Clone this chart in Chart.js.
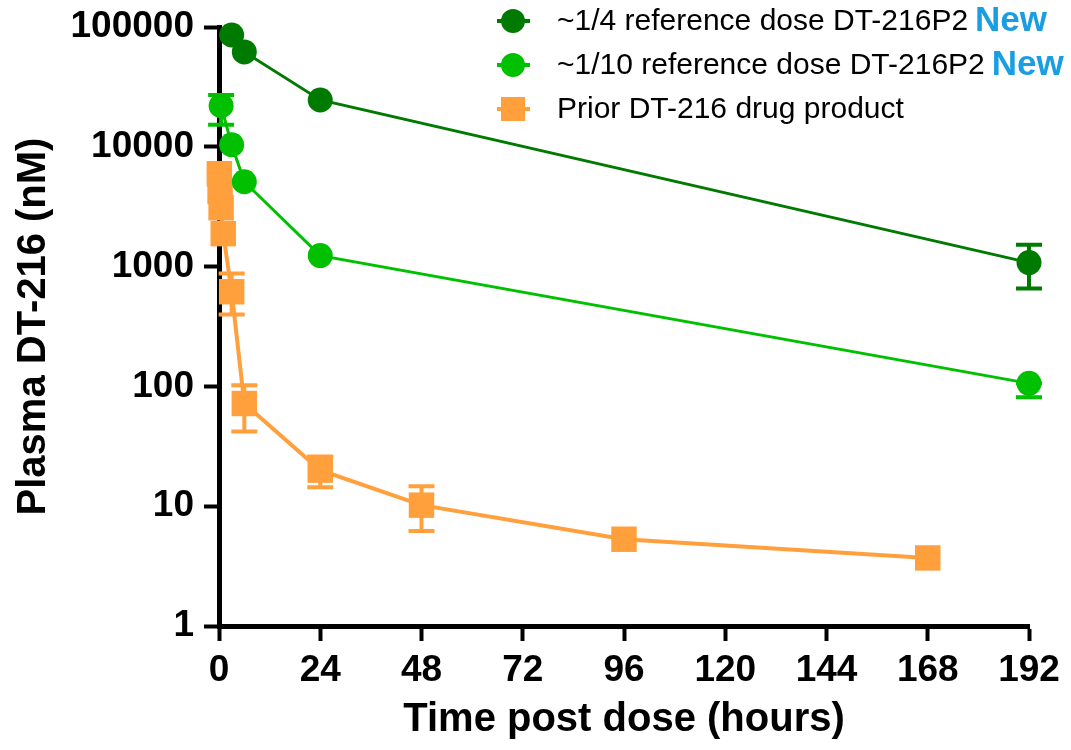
<!DOCTYPE html>
<html>
<head>
<meta charset="utf-8">
<script src="https://cdn.jsdelivr.net/npm/chart.js@4"></script>
<style>
  html, body { margin: 0; padding: 0; background: #fff; }
</style>
</head>
<body>
<canvas id="chart" width="1071" height="750"></canvas>
<script>
'use strict';

// ~1/4 reference dose
const hoursQuarter = [3, 6, 24, 192];
const plasmaQuarter = [85800, 61900, 24600, 1080];
const lowQuarter = [null, null, null, 657];
const highQuarter = [null, null, null, 1520];

// ~1/10 reference dose
const hoursTenth = [0.5, 3, 6, 24, 192];
const plasmaTenth = [22000, 10400, 5110, 1235, 106];
const lowTenth = [15250, null, null, null, 81];
const highTenth = [27100, null, null, null, 106];

// prior drug product
const hoursPrior = [0.083, 0.25, 0.5, 1, 3, 6, 24, 48, 96, 168];
const plasmaPrior = [5960, 4220, 3100, 1884, 617, 72, 20, 10.2, 5.3, 3.7];
const lowPrior = [null, null, null, null, 398, 42, 14.4, 6.2, null, null];
const highPrior = [null, null, null, null, 875, 102, 26, 14.7, null, null];

const seriesLabels = [
    '~1/4 reference dose DT-216P2',
    '~1/10 reference dose DT-216P2',
    'Prior DT-216 drug product',
];
const newBadges = [true, true, false];
const xTicks = [0, 24, 48, 72, 96, 120, 144, 168, 192];
const yTicks = [1, 10, 100, 1000, 10000, 100000];

const FONT = '"Liberation Sans", Arial, sans-serif';

const toPoints = (xs, ys) => xs.map((x, i) => ({x: x, y: ys[i]}));

const makeSet = (idx, xs, ys, lo, hi, color, style, radius, width) => ({
    label: seriesLabels[idx],
    data: toPoints(xs, ys),
    errLow: lo,
    errHigh: hi,
    badge: newBadges[idx],
    borderColor: color,
    backgroundColor: color,
    borderWidth: width,
    pointStyle: style,
    pointRadius: radius,
    pointBorderWidth: 0,
    pointBackgroundColor: color,
    clip: false,
    tension: 0,
});

const errorBars = {
    id: 'errorBars',
    beforeDatasetsDraw(chart) {
        const {ctx, scales: {x, y}} = chart;
        chart.data.datasets.forEach(ds => {
            ds.data.forEach((p, i) => {
                if (ds.errLow[i] == null && ds.errHigh[i] == null) {
                    return;
                }
                const px = x.getPixelForValue(p.x);
                const y1 = y.getPixelForValue(ds.errLow[i] ?? p.y);
                const y2 = y.getPixelForValue(ds.errHigh[i] ?? p.y);
                ctx.save();
                ctx.strokeStyle = ds.borderColor;
                ctx.lineWidth = 4;
                ctx.beginPath();
                ctx.moveTo(px, y1);
                ctx.lineTo(px, y2);
                ctx.moveTo(px - 13, y1);
                ctx.lineTo(px + 13, y1);
                ctx.moveTo(px - 13, y2);
                ctx.lineTo(px + 13, y2);
                ctx.stroke();
                ctx.restore();
            });
        });
    },
};

// legend at top right, with the blue "New" badge
const sideLegend = {
    id: 'sideLegend',
    afterDraw(chart) {
        const ctx = chart.ctx;
        chart.data.datasets.forEach((ds, i) => {
            const cy = 21 + i * 44;
            ctx.save();
            ctx.strokeStyle = ds.borderColor;
            ctx.fillStyle = ds.borderColor;
            ctx.lineWidth = 4;
            ctx.beginPath();
            ctx.moveTo(497, cy);
            ctx.lineTo(530, cy);
            ctx.stroke();
            ctx.beginPath();
            if (ds.pointStyle === 'rect') {
                ctx.rect(501, cy - 12, 24, 24);
            } else {
                ctx.arc(513, cy, 12, 0, Math.PI * 2);
            }
            ctx.fill();
            ctx.font = '30px ' + FONT;
            ctx.fillStyle = '#000';
            ctx.textBaseline = 'middle';
            ctx.fillText(ds.label, 557, cy + 1);
            if (ds.badge) {
                const w = ctx.measureText(ds.label).width;
                ctx.font = 'bold 35px ' + FONT;
                ctx.fillStyle = '#1a9ee2';
                ctx.fillText('New', 557 + w + 7, cy);
            }
            ctx.restore();
        });
    },
};

const datasets = [
    makeSet(0, hoursQuarter, plasmaQuarter, lowQuarter, highQuarter, '#007a00', 'circle', 12.5, 3),
    makeSet(1, hoursTenth, plasmaTenth, lowTenth, highTenth, '#00c000', 'circle', 12.5, 3),
    makeSet(2, hoursPrior, plasmaPrior, lowPrior, highPrior, '#ffa03c', 'rect', 18, 4),
];

new Chart(document.getElementById('chart').getContext('2d'), {
    type: 'line',
    data: {datasets: datasets},
    plugins: [errorBars, sideLegend],
    options: {
        responsive: false,
        animation: false,
        events: [],
        layout: {padding: {top: 27, right: 42, left: 0, bottom: 0}},
        plugins: {legend: {display: false}, tooltip: {enabled: false}},
        scales: {
            x: {
                type: 'linear',
                min: 0,
                max: 192,
                afterFit: s => {
                    s.height = 124;
                    s.paddingLeft = 0;
                    s.paddingRight = 0;
                },
                afterBuildTicks: s => { s.ticks = xTicks.map(v => ({value: v})); },
                border: {display: true, width: 5, color: '#000'},
                grid: {drawOnChartArea: false, tickLength: 15, tickWidth: 4, color: '#000'},
                ticks: {color: '#000', padding: 8, maxRotation: 0, font: {family: FONT, size: 37, weight: 'bold'}},
                title: {
                    display: true,
                    text: 'Time post dose (hours)',
                    color: '#000',
                    padding: {top: 0, bottom: 6},
                    font: {family: FONT, size: 40, weight: 'bold'},
                },
            },
            y: {
                type: 'logarithmic',
                min: 1,
                max: 100000,
                afterFit: s => {
                    s.width = 219;
                    s.paddingTop = 0;
                    s.paddingBottom = 0;
                },
                afterBuildTicks: s => { s.ticks = yTicks.map(v => ({value: v})); },
                border: {display: true, width: 5, color: '#000'},
                grid: {drawOnChartArea: false, tickLength: 15, tickWidth: 4, color: '#000'},
                ticks: {
                    color: '#000',
                    padding: 10,
                    font: {family: FONT, size: 37, weight: 'bold'},
                    callback: v => String(v),
                },
                title: {
                    display: true,
                    text: 'Plasma DT-216 (nM)',
                    color: '#000',
                    padding: {top: 10, bottom: 0},
                    font: {family: FONT, size: 40, weight: 'bold'},
                },
            },
        },
    },
});
</script>
</body>
</html>
